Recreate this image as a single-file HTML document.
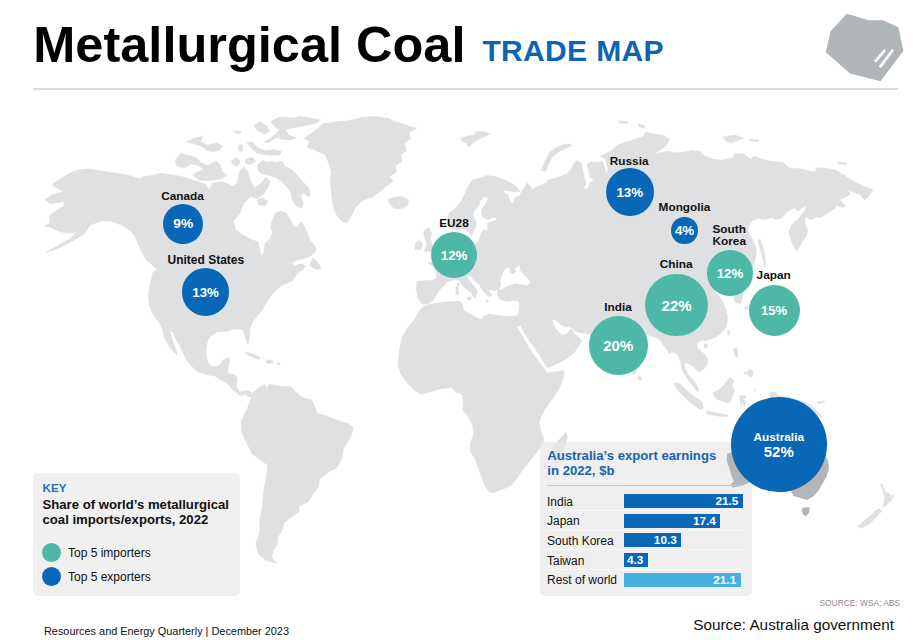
<!DOCTYPE html>
<html><head><meta charset="utf-8">
<style>
*{margin:0;padding:0;box-sizing:border-box}
html,body{width:913px;height:640px;overflow:hidden;background:#fff}
body{position:relative;font-family:"Liberation Sans",sans-serif;color:#111}
.abs{position:absolute;white-space:nowrap}
#title{left:33.3px;top:17.3px;font-size:50.5px;font-weight:bold;line-height:56px;color:#000;letter-spacing:0px}
#sub{left:482.4px;top:34px;font-size:30px;font-weight:bold;line-height:34px;color:#0b64b4;letter-spacing:.35px}
#rule{left:33px;top:88px;width:865px;height:2px;background:#dadddd}
svg#map{position:absolute;left:0;top:0;width:913px;height:640px}
.lbl{font-size:11.8px;font-weight:bold;line-height:12px;color:#111}
.c{position:absolute;border-radius:50%;display:flex;align-items:center;justify-content:center;color:#fff;font-weight:bold;font-size:13.3px}
.b{background:#0867b6}.t{background:#4eb8a6}
#key{left:33px;top:473px;width:207px;height:122.7px;background:#f0f0f0;border-radius:5px}
#box{left:540px;top:442px;width:212px;height:154px;background:rgba(232,232,232,.68);border-radius:5px}
.row{position:absolute;left:547px;margin-top:.5px;font-size:12px;line-height:15px;color:#111}
.bar{position:absolute;left:623.5px;height:14px;background:#0867b6;color:#fff;font-weight:bold;font-size:11.8px;line-height:14.6px;text-align:right;padding-right:4.3px;margin-top:-.3px}
.sep{position:absolute;left:547px;width:200px;height:1px;background:#f9f9f9;margin-top:-.5px}
</style></head><body>
<div id="title" class="abs">Metallurgical Coal</div>
<div id="sub" class="abs">TRADE MAP</div>
<div id="rule" class="abs"></div>
<svg id="logo" class="abs" style="left:0;top:0" width="913" height="100" viewBox="0 0 913 100"><polygon points="846.9,13.8 868.8,20.3 882.8,20.3 898.4,27.3 903.4,50.8 880.5,81.2 850,73.4 825.8,52.3 830.5,31.2" fill="#b0b5b8"/><path d="M884.4,50.8 L875.8,60.9 M892.2,50.8 L880.5,66.4" stroke="#fff" stroke-width="2.7" stroke-linecap="round" fill="none"/></svg>

<svg id="map" viewBox="0 0 913 640"><g id="land" fill="#dfe0e2" stroke="#dfe0e2" stroke-width="0.7" stroke-linejoin="round"><!--LAND--><path d="M53,184 L63,177 L74,171 L85,169 L96,170 L107,172 L118,173.5 L129,175.5 L139.5,179 L144,176.5 L153,175.5 L161,173.5 L170,174.5 L183,177 L192,180 L199,182 L205,184 L209.5,190 L213,182.5 L220.5,182 L226.3,183.2 L232.9,186.5 L237.2,183.2 L239.4,172.3 L243.8,166.8 L248.2,172.3 L250.4,181 L254.8,187.6 L261.3,183.2 L265.7,177.8 L270.1,181 L267.9,187.6 L263.5,194.2 L257,198.6 L250.4,196.4 L243.8,203 L239.7,213.9 L233.4,220.9 L235.5,229.4 L242.5,235 L250.9,239.2 L258,242 L259.4,249.1 L261.5,255.4 L264.3,251.9 L265,243.4 L269.9,239.2 L272.7,232.2 L270.6,226.6 L272.7,219.5 L274.9,213.2 L280.5,211.1 L286.1,213.2 L290.3,219.5 L293.1,226.6 L297.4,227.3 L301.6,221.6 L304.4,226.6 L307.2,233.6 L310,240.6 L314.2,244.9 L316.3,249.1 L314.2,253.3 L310,256.1 L303,258.9 L295.9,260.3 L291,263.1 L294.5,265.9 L301.6,263.8 L305.8,265.9 L300.2,271.6 L298.5,272.5 L292,281 L281,285.5 L272,294 L266,303 L262.5,309.5 L258.3,314.4 L252.5,322 L249.2,330.5 L249.5,337.8 L248.3,343.8 L247,343 L245.4,336.9 L242.8,330.1 L239.3,328.9 L232.5,329.2 L227.3,331.3 L216.7,331.9 L210.1,336.3 L206.8,342.9 L205.7,353.8 L207.9,362.6 L212.3,367 L218.9,365.9 L224.3,359.3 L229.8,357.8 L228.7,364.8 L227.6,373.5 L234.2,374.6 L237.5,377.9 L236.4,386.7 L239.7,392.1 L244,391 L248.4,390.6 L252,392.5 L251.7,396.5 L248,396.5 L245.1,394 L240.8,396 L236.4,392.6 L232,388.9 L227.6,383.4 L221,380.1 L214.5,375.7 L205.7,374.6 L197,371.3 L188.2,362.6 L183.8,353.8 L178.3,342.9 L172.9,331.9 L169.6,330.8 L172,340 L176,350 L177.2,354.9 L173,351.6 L168.5,345 L165,338.5 L163,330.8 L159.7,323.1 L153.1,314.4 L149.4,305.1 L148.3,294.2 L150.8,281.8 L152.8,272.7 L156.9,269.6 L151.8,264.6 L145.7,259.5 L142.7,253.4 L138.6,245.3 L135.6,237.2 L129.5,230.1 L121.4,225 L111.2,220.9 L101.1,220.9 L92.9,224 L89.9,225 L87.9,229 L82.8,235.1 L73.7,240.2 L60.5,247.3 L46.2,252.4 L58.4,245.3 L70.6,238.2 L76.7,232.1 L66.5,233.1 L58.4,231.1 L50.3,227 L44.2,226 L50.3,222.9 L49.3,215.8 L56.4,210.8 L64.5,205.7 L63.5,201.6 L50.3,203.7 L45.2,199.6 L50.3,195.5 L63.5,191.5 L52.3,185.4Z"/><path d="M304,138.3 L313.9,131.8 L322.7,124.1 L335.8,121.9 L349,120.8 L362.1,117.5 L375.2,116.4 L388.4,118.6 L393.1,120.8 L406.3,125.2 L416.1,128.5 L408.5,132.9 L410.7,138.3 L404.1,143.8 L406.3,150.4 L400.8,154.8 L401.9,161.3 L395.3,165.7 L396.4,172.3 L388.8,176.7 L393.1,181.1 L384.4,187.6 L381.8,189.8 L373.1,196.4 L362.1,200.8 L355.5,207.3 L351.2,216.1 L346.8,222.7 L342.4,221.6 L335.8,213.9 L332.5,203 L331.4,192 L330.3,181.1 L331.4,172.3 L329.2,163.5 L324.9,154.8 L316.1,150.4 L307.3,147.1 L309.5,141.6Z"/><path d="M387.7,199.7 L393,197.5 L401.9,196.4 L408.5,199.7 L407.4,205.1 L401.9,208.4 L394.2,208.4 L389.9,204Z"/><path d="M251.7,396.5 L253.9,392.1 L260.5,386.7 L264.9,384.5 L266,388.9 L269.2,384.5 L275.8,385.6 L284.6,386.7 L291.1,386.7 L295.5,392.1 L302.1,397.6 L310.9,399.8 L314.2,405.3 L316.9,413.3 L326.2,415.9 L336.8,419.9 L348.7,423.9 L353.3,427.9 L350.1,438.5 L343.4,447.8 L342.1,458.4 L336.8,467.7 L328.8,471.7 L319.5,479.6 L318.2,487.6 L312.9,494.2 L307.6,502.2 L298.3,506.2 L299.6,511.5 L291.7,516.8 L283.7,523.4 L282.4,530.1 L277.1,538 L277.1,544.7 L273.1,551.3 L271.8,558 L277.1,563.3 L266.5,560.6 L258.5,554 L255.8,543.4 L259.8,532.7 L259.8,519.5 L262.5,506.2 L263.8,490.3 L266.5,477 L267.8,465 L259.8,459.7 L251.9,453.1 L246.5,442.5 L241.8,431.9 L241.2,421.2 L246.5,410.6 L250,402Z"/><path d="M424.2,306.3 L431.4,304.1 L445.6,302 L459.8,301.3 L462.7,304.8 L463.4,310.5 L469.8,314.1 L476.9,317.7 L481.2,319.8 L484.8,315.5 L489.7,314.1 L498.3,315.5 L506.8,316.7 L515.4,316 L516.9,327.4 L519.7,331.6 L523.9,338.7 L528.1,346.4 L533.8,354.9 L538,360.5 L542.2,366.1 L545,370.3 L547.1,373.1 L553.4,372.4 L564,370.3 L564,374.5 L561.9,381.6 L558.4,390 L551.2,400.3 L545.5,408 L541,416 L539,422.7 L540.6,430 L543.9,440.7 L540,448 L533,457.1 L528,463 L523.1,469.1 L517,478 L511,485.6 L502,489.5 L492.4,492.8 L488,491 L483.7,482.3 L479.5,471 L476,460.4 L470.5,451.5 L470.5,442.9 L473.8,434.1 L472.7,425.3 L468.3,416.6 L462.9,410 L463.4,400.8 L462.3,394.2 L455.7,392 L451.3,387.6 L440.4,388.7 L429.4,392 L420.7,394 L414.1,389.8 L407.5,383 L401,374.5 L398,366 L398.8,357 L400,346.7 L402.2,337.9 L406.6,329.1 L412,322.6 L415.7,317.7 L420,310.5Z"/><path d="M565.9,432.8 L567.3,437 L565.9,443.4 L563.1,451.1 L560.2,458.1 L558.1,463.8 L555.3,464.5 L553.2,461 L552.5,453.9 L553.9,446.9 L557.4,442 L561.7,437 L564.5,433.5Z"/><path d="M417.1,281.3 L425,280.8 L431.4,280.6 L437,278 L436,272 L432.6,265.7 L428,263.5 L433,261.5 L438,260 L445,250 L456,240 L457,232 L461,238 L465,241 L472,243 L477.2,243.5 L479.4,238 L481.6,232.5 L483.2,229.2 L486,231.4 L488.1,228.2 L487,223.8 L490.3,222.1 L495.8,220.5 L497.4,218.3 L493.6,217.2 L488.1,219.4 L483.8,218.3 L481.6,213.9 L482.1,208.5 L485.4,204.1 L488.1,199.1 L486,196.4 L483.2,197 L480.5,200.2 L478.9,205.2 L475,209.5 L472.8,213.9 L473.9,218.3 L476.1,222.1 L475.6,227 L473.4,231.4 L471.7,235.8 L468.5,231.4 L461.9,228.2 L458,231 L453,229 L449,222 L447.7,216.1 L449.8,212.8 L455.3,208.5 L460.8,201.9 L465.2,193.1 L468.5,185.5 L472.8,180 L476.4,178.9 L487.3,175.6 L496.1,176.7 L504.9,180 L513.6,184.3 L519.1,189.8 L520,191.5 L514.4,192 L510,190.9 L505.7,190.4 L502.4,190.9 L504.6,193.1 L507.9,194.8 L509.5,200.2 L511.7,203 L513.9,202.4 L514.4,198.1 L517.2,196.4 L520,195.9 L520.2,194.2 L524.6,187.6 L526.8,183.2 L531.2,186.5 L531.2,189.8 L537.7,186.5 L546.5,183.2 L547.5,180.1 L558,177.5 L565,174.8 L570.3,171.3 L573.8,164.3 L576.4,160.8 L580.8,162.6 L582.6,169.6 L584.3,176.6 L586.1,183.6 L583.5,188.9 L587.8,188.9 L590.5,181.9 L594.8,179.2 L590.5,178.3 L588.7,171.3 L587,164.3 L591.3,161.7 L598.4,162.6 L601.9,160.8 L604.5,166.1 L606.2,173.1 L608,173.1 L607.1,166.1 L605.4,159.1 L600.1,156.4 L605.4,153.8 L612.4,150.3 L617.6,145.1 L628.1,141.5 L638.7,138 L643.9,136.3 L645.7,131.9 L652.7,133.7 L663.2,135.4 L669.3,138.9 L666.7,145.1 L659.7,150.3 L652.7,153.8 L659.7,152.9 L668.5,151.2 L675.5,152.9 L682.7,152.6 L691.4,150.4 L700.2,151.5 L704.6,155.9 L713,159.1 L721.8,160.2 L732.7,158 L734.9,153.7 L743.7,153.7 L750.2,159.1 L754.6,155.9 L761.2,159.1 L770,161.3 L783.1,162.4 L788.6,167.9 L800.6,169 L809.4,171.2 L816,172.3 L816,167.9 L824.7,168.3 L835.7,170.1 L844.4,175.6 L853.2,181.1 L859.8,184.3 L864.2,186.5 L872.9,189.8 L868.5,196.4 L864.2,199.7 L859.8,194.2 L853.2,192 L848.8,189.8 L849.9,194.2 L844.4,197.5 L840,199.7 L845.5,206.2 L842.2,207.3 L835.7,205.1 L835,208.8 L830,211.3 L821.3,216.9 L815,217.5 L810,220 L806.9,216.3 L805,218.8 L805,223.8 L807.5,230 L806.9,235 L802.5,241.3 L798.8,247.5 L796.3,250.6 L793.8,246.3 L790.6,238.8 L788.8,231.3 L792.5,223.8 L798.8,218.8 L803.1,212.5 L805,210.6 L806.9,205.6 L802.5,207.5 L797.5,211.3 L795,207.5 L790,209.4 L785,213.8 L782.5,217.5 L776.3,219.4 L771.3,217.5 L765,219.4 L758.8,218.1 L752.5,220.6 L748.8,225 L748.1,231.3 L751.3,237.5 L754.4,243.8 L756.3,250 L755.6,257.5 L753.8,263.8 L750,275 L745,282 L742.5,296 L740.5,303.4 L735,302.5 L734,296 L728,290 L720,292 L713,290.3 L720.5,298.1 L725.6,308.3 L727.6,316.4 L726.6,324.6 L724.4,329.7 L719.7,334.4 L713.4,338.3 L707.2,339.8 L705.6,342.2 L704.1,339.8 L700.2,340.6 L697,343.8 L697,347.7 L700.2,350.8 L704.1,353.9 L707.2,358.6 L707.2,364.1 L704.1,368.8 L698.6,371.9 L697,370.3 L693.1,366.4 L688.4,363.3 L685.3,362.5 L684.5,365.6 L686.1,371.1 L689.2,375.8 L693.1,379.7 L696.3,384.4 L698.6,389.1 L697.8,391.4 L694.7,388.3 L691.6,384.4 L688.4,379.7 L685.3,375 L682.2,370.3 L681.4,364.1 L679.1,357.8 L675.9,353.1 L671.3,351.6 L669.7,353.9 L667.3,350 L663.4,345.3 L660.3,339.8 L654.1,336.7 L646.3,334.4 L644,350 L640,362 L636,372 L633.5,374.5 L630,370 L622,355 L610,350 L600,340 L590,336 L589.3,333.8 L584.4,333.1 L578.8,332.3 L574.5,330.9 L572.4,328.1 L568.9,326.7 L564.7,326.7 L560.5,324.6 L557,321.1 L554.1,319 L552,320.4 L554.1,326 L557.7,331.6 L560.5,333.8 L562.6,335.2 L566.1,334.5 L568.9,331.6 L571,328.8 L572.4,330.2 L574.5,333.8 L578.8,337.3 L581.6,340.8 L580.2,343.6 L574.5,352 L566.1,359.1 L556.3,364 L548.5,367.5 L546.4,366.8 L543.6,361.9 L540.1,355.6 L534.5,347.8 L528.8,339.4 L523.9,332.3 L520.4,325.3 L517.6,326 L516,328 L512,322 L512,316.3 L516.8,316.2 L518.9,312 L519.6,306.3 L518.9,301.3 L513.9,300.6 L506.8,301.3 L501.1,299.9 L498.3,297 L497.6,292.7 L498.3,289.2 L495.4,290.6 L491.2,289.9 L487.6,289.2 L489.7,292 L491.9,294.9 L489.7,297 L486.9,294.9 L484,292 L481.9,289.2 L479.8,285.6 L474.1,279.9 L468.4,274.9 L466.2,274.9 L467,277.1 L469.8,281.3 L473.4,285.6 L476.9,289.9 L476.9,293.4 L474.8,297.7 L473.4,296.3 L471.2,292.7 L467,289.2 L462,284.9 L459.1,279.9 L452.7,279.9 L446.3,282.1 L444.2,285.6 L439.9,289.2 L436.3,294.9 L432.8,300.6 L427.1,304.1 L421.4,303.4 L417.8,297.7 L416.4,289.2Z"/><path d="M424.9,229.6 L429.3,227.4 L431.5,232.9 L430.4,239.4 L433,246 L435,250 L428.2,251.5 L424,251 L426,247 L427.1,243.8 L424.9,238.3 L423.8,232.9Z"/><path d="M415,243.8 L419.4,240.5 L422.7,243.8 L420.5,249.3 L415,249.3Z"/><path d="M175.3,161.1 L180.5,153.2 L189.3,155.8 L196.3,157.6 L200.7,162.8 L207.7,165.5 L216.4,161.1 L219.9,164.6 L221.7,171.6 L227,175.1 L220.8,178.6 L210.3,180.4 L199.8,180.4 L192.8,175.1 L196.3,172.5 L203.3,169.8 L198.9,165.5 L191,163.7 L184.9,168.1 L177,166.3Z"/><path d="M186.6,141.8 L194.5,138.3 L202.4,136.5 L200.7,141.8 L207.7,145.3 L216.4,142.7 L222.6,146.2 L219.9,149.7 L212.9,151.4 L206.8,150.6 L201.5,146.2 L192.8,143.6Z"/><path d="M270.8,121.6 L278.7,117.3 L292.7,118.1 L299.7,116.4 L310.2,118.1 L320.7,119.9 L315.5,123.4 L303.2,126 L292.7,127.8 L285.7,129.5 L289.2,135.7 L296.2,137.4 L290.9,140 L282.2,139.2 L276.9,137.4 L268.1,142.7 L264.6,141.8 L271.6,137.4 L276.9,133 L279.5,129.5 L275.2,126.9Z"/><path d="M254.1,126 L260.3,121.6 L266.4,126 L269.9,131.3 L264.6,133.9 L257.6,130.4Z"/><path d="M247.1,142.7 L252.4,141.8 L257.6,147.9 L264.6,150.6 L275.2,149.7 L281.3,151.4 L279.5,155 L268.1,155 L257.6,153.2 L252.4,148.8Z"/><path d="M238.3,145.5 L242,144.4 L242.7,151 L239.2,151.4Z"/><path d="M233.1,131.5 L238,130.4 L241.9,132.5 L238,133.9Z"/><path d="M231.3,161.1 L236.6,157.6 L240.1,161.1 L237.5,166.3 L233.1,164.6Z"/><path d="M245.4,159.3 L252.4,157.6 L255.9,161.1 L250.6,164.6 L246.2,163.7Z"/><path d="M257.6,165.5 L262.9,160.2 L267.3,162.8 L270.8,161.1 L275.2,162.8 L282.2,161.1 L283.9,165.5 L290.9,169 L296.2,174.2 L301.4,180.4 L308.5,187.4 L310.2,194.4 L308.5,197 L303.2,192.6 L300.6,196.1 L303.2,203.1 L301.4,208.4 L296.2,205.8 L292.7,200.5 L290.9,192.6 L287.4,187.4 L282.2,182.1 L275.2,176.9 L268.1,175.1 L261.1,173.4 L257.6,169.8Z"/><path d="M257.3,200 L262,197.7 L267.8,201 L265.5,205.5 L259,205Z"/><path d="M312.8,257.5 L317,261.7 L321.3,268.1 L317,269.5 L311.4,266.7 L309.5,264.5 L311.4,261.7Z"/><path d="M245.1,351.8 L253.9,354.2 L260.5,357.8 L258.3,359.3 L249.5,355.8 L244.9,353Z"/><path d="M266,360.4 L271.4,359.9 L273.6,362.6 L267,363.7Z"/><path d="M277,363 L280,363 L280,364.5 L277,364.5Z"/><path d="M461.1,138.3 L467.6,136.1 L474.2,135 L476.4,131.8 L485.1,131.8 L489.5,134 L483,137.2 L476.4,140.5 L472,143.8 L468.7,147.1 L466.5,142.7 L462.2,141.6Z"/><path d="M571.2,144.2 L565,144.2 L556.3,147.7 L550.2,151.9 L546.7,158.2 L543.1,166.1 L541.4,170.5 L545.8,171.3 L548.4,164.3 L551.9,157.3 L558,152.1 L566.8,147.7 L571.2,146Z"/><path d="M619,121 L628,121.5 L627,123.5 L620,123Z"/><path d="M639,124 L645,126 L644,128 L639,126.5Z"/><path d="M722.9,137.2 L734.9,135 L743.7,138.3 L737.1,140.5 L730.5,142.7 L726.1,140.5Z"/><path d="M750,139.5 L759,140 L758,141.5 L750,141Z"/><path d="M837.9,162.4 L846.6,163 L846,164.6 L838,164Z"/><path d="M758.1,240 L760,239.4 L761.9,245 L764.4,253.8 L765.6,262.5 L765,267.5 L763.1,260 L760.6,250 L758.7,243.8Z"/><path d="M727.8,331 L729.5,330.5 L729.8,333.5 L728.8,335.2 L727.8,334Z"/><path d="M704.1,344 L707.2,343.8 L707,347.7 L704.3,347.5Z"/><path d="M638,376.6 L640.5,376.6 L641.9,379.5 L640,380.5 L638,379Z"/><path d="M674.4,382.8 L679.1,383.6 L686.9,390.6 L694.7,396.9 L701.7,401.6 L703.3,407.8 L700.5,409.5 L692,403.8 L684.3,396.8 L677.3,389.5 L674.2,384.6Z"/><path d="M706.4,411.5 L713.4,412.3 L721.3,413.9 L727.5,415.1 L727.5,416.8 L719.7,416.2 L711.9,414.8 L706.4,413.3Z"/><path d="M712.7,393 L718.1,390.6 L722.8,386.7 L726.7,381.3 L729.8,377.3 L733.8,380.5 L732.2,385.9 L734.5,390.6 L732.2,395.3 L730.6,401.6 L727.5,403.1 L721.3,400.8 L716.6,399.2 L714.2,396.1Z"/><path d="M739.8,396 L745,395.7 L745.9,397.5 L742.5,398.5 L745.5,402 L744.5,405.9 L742,402 L741,405.9 L739.8,401Z"/><path d="M733.8,348.5 L736.5,347.7 L737.7,352 L737.3,357 L735,356 L734,352Z"/><path d="M744,372.5 L748,371.5 L748.5,370.5 L752,370 L753.3,373 L752,376.8 L749,376.2 L748,373.8 L744.2,373.5Z"/><path d="M754,389.5 L755,389.3 L755.3,391 L754.3,391Z"/><path d="M770,392.6 L776,392.2 L777,395.5 L790,398 L804.3,402.1 L809.8,404.4 L814.5,409.1 L819.2,413.8 L821.8,417.3 L817,415 L810,412 L800,412 L790,408 L780,402 L770,397Z"/><path d="M817,402 L824,401 L824.5,402.5 L818,403.5Z"/><path d="M886,493.5 L888.2,492.4 L890.4,495.7 L893.7,495.7 L891.5,500.1 L886,505.6 L882.7,506.7 L883.8,502.3 L884.9,497.9 L883,490 L880.6,483.7 L882,484 L883.9,489.1Z"/><path d="M879.5,508.9 L881.7,511 L876.2,517.6 L868.5,524.2 L862,528.1 L857.6,526.4 L864.2,520.9 L870.7,515.4 L876.2,510Z"/><path d="M735.7,296 L740.8,296 L741,300 L739,302.5 L736,301.5Z"/><path d="M455.9,287 L458.4,287.3 L458.6,294.5 L456.2,294.9Z"/><path d="M457.5,282.8 L459,283 L459,286.3 L457.7,286.3Z"/><path d="M467,297.2 L471.2,297 L470.5,300.6 L467.5,299.5Z"/><path d="M486.2,300.2 L488.3,299.9 L488.3,301.5 L486.2,302Z"/><path d="M744.7,307 L747.5,306.5 L747.5,310 L745,309.5Z"/><path fill="#fff" stroke="none" d="M499,289.2 L501.1,285.6 L500.4,280.6 L502.6,273.5 L505.4,268.5 L509.7,267.8 L509.3,271.5 L512.5,274.2 L516.1,271.4 L514.7,268.5 L519.6,265.7 L520.4,270.7 L523.9,274.9 L528.2,279.2 L530.3,282.8 L526.8,285.6 L521.1,284.2 L515.4,283.5 L509.7,284.9 L504,287.7 L500.5,290Z"/><!--/LAND--></g></svg>

<div id="box" class="abs"></div>
<svg id="aus" class="abs" style="left:0;top:0" width="913" height="640" viewBox="0 0 913 640"><g fill="#b3b6b9"><!--AUS--><path d="M731.6,451.9 L727.2,454.1 L726.6,460.7 L729.4,468.3 L731.6,476 L733.8,481.5 L730.5,484.8 L732.7,487.4 L741.5,485.9 L749.1,482.6 L760,478 L775,480 L785,485 L791.9,492.4 L793,495.7 L800.6,497.9 L807.2,500.1 L812.7,496.8 L818.1,491.3 L822.5,483.7 L826.9,476 L829.1,468.3 L828,460.7 L825.8,456.3 L820,445 L810,430 L800,415 L790,420 L775,410 L760,415 L745,430Z"/><path d="M802.4,507.8 L809.4,507.1 L809.4,512 L806.1,516.5 L803,514.5 L801.7,510Z"/><!--/AUS--></g></svg>

<!-- circles -->
<div class="c b" style="left:163.20px;top:203.50px;width:40.00px;height:40.00px;font-size:13.7px">9%</div>
<div class="c b" style="left:181.70px;top:268.40px;width:47.80px;height:47.80px">13%</div>
<div class="c t" style="left:431.10px;top:232.30px;width:46.00px;height:46.00px">12%</div>
<div class="c b" style="left:605.70px;top:168.20px;width:48.20px;height:48.20px">13%</div>
<div class="c b" style="left:671.40px;top:217.30px;width:26.40px;height:26.40px;font-size:13.4px">4%</div>
<div class="c t" style="left:707.25px;top:250.35px;width:45.50px;height:45.50px">12%</div>
<div class="c t" style="left:645.20px;top:273.70px;width:62.80px;height:62.80px;font-size:15px">22%</div>
<div class="c t" style="left:588.65px;top:315.75px;width:59.30px;height:59.30px;font-size:15px">20%</div>
<div class="c t" style="left:748.50px;top:284.60px;width:51.20px;height:51.20px;font-size:13px">15%</div>
<div class="c b" style="left:730.8px;top:396.5px;width:95.8px;height:95.8px"></div>
<div class="abs" style="left:730.5px;width:96.5px;top:430.6px;text-align:center;color:#fff;font-weight:bold;font-size:11.8px;line-height:12px">Australia</div>
<div class="abs" style="left:730.5px;width:96.5px;top:444px;text-align:center;color:#fff;font-weight:bold;font-size:15px;line-height:15px">52%</div>

<!-- labels -->
<div class="abs lbl" style="left:161.2px;top:189.8px">Canada</div>
<div class="abs lbl" style="left:167.5px;top:254.2px;font-size:12px">United States</div>
<div class="abs lbl" style="left:439.2px;top:217.1px">EU28</div>
<div class="abs lbl" style="left:609.8px;top:154.8px">Russia</div>
<div class="abs lbl" style="left:658.6px;top:201px">Mongolia</div>
<div class="abs lbl" style="left:712.5px;top:222.8px;line-height:12px">South<br>Korea</div>
<div class="abs lbl" style="left:659.8px;top:258.3px">China</div>
<div class="abs lbl" style="left:604.2px;top:300.6px">India</div>
<div class="abs lbl" style="left:756.6px;top:269px">Japan</div>

<!-- key -->
<div id="key" class="abs"></div>
<div class="abs" style="left:42.6px;top:480.7px;font-size:11.6px;font-weight:bold;line-height:14px;color:#1b70bc">KEY</div>
<div class="abs" style="left:42.5px;top:497px;font-size:13.15px;font-weight:bold;line-height:15px;color:#111">Share of world’s metallurgical<br>coal imports/exports, 2022</div>
<div class="c t" style="left:41.7px;top:542.5px;width:19.6px;height:19.6px"></div>
<div class="c b" style="left:41.7px;top:566.7px;width:19.6px;height:19.6px"></div>
<div class="abs" style="left:68px;top:545.5px;font-size:12px;line-height:14px;color:#111">Top 5 importers</div>
<div class="abs" style="left:68px;top:569.7px;font-size:12px;line-height:14px;color:#111">Top 5 exporters</div>
<div class="abs" style="left:44px;top:625px;font-size:10.9px;line-height:12px;color:#111">Resources and Energy Quarterly | December 2023</div>

<!-- chart -->
<div class="abs" style="left:547.3px;top:448px;font-size:13.15px;font-weight:bold;line-height:15px;color:#1464b0">Australia’s export earnings<br>in 2022, $b</div>
<div class="abs" style="left:547px;top:484.5px;width:196px;height:1px;background:#c6c7c8"></div>
<div class="row" style="top:494px">India</div><div class="bar" style="top:494.2px;width:119.2px">21.5</div>
<div class="sep" style="top:510.5px"></div>
<div class="row" style="top:513.7px">Japan</div><div class="bar" style="top:513.8px;width:96.7px">17.4</div>
<div class="sep" style="top:530.2px"></div>
<div class="row" style="top:533.4px">South Korea</div><div class="bar" style="top:533.5px;width:57.6px">10.3</div>
<div class="sep" style="top:549.9px"></div>
<div class="row" style="top:553.1px">Taiwan</div><div class="bar" style="top:553.2px;width:24.1px">4.3</div>
<div class="sep" style="top:569.6px"></div>
<div class="row" style="top:572.9px">Rest of world</div><div class="bar" style="top:572.9px;width:117px;background:#45b0e0">21.1</div>

<div class="abs" style="left:819.5px;top:598px;font-size:8.4px;line-height:10px;color:#8a8a8a">SOURCE: WSA; ABS</div>
<div class="abs" style="left:693.3px;top:615px;font-size:15.3px;line-height:19px;color:#111">Source: Australia government</div>
</body></html>
